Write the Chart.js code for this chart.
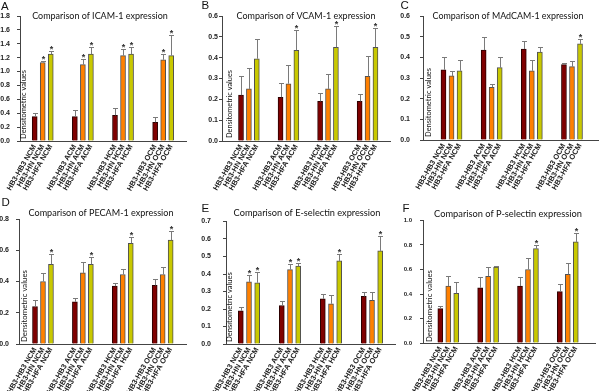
<!DOCTYPE html>
<html><head><meta charset="utf-8">
<script src="https://cdn.jsdelivr.net/npm/chart.js@4.4.1/dist/chart.umd.min.js"></script>
<style>
html,body{margin:0;padding:0;background:#fff;}
#wrap{position:relative;width:600px;height:391px;overflow:hidden;background:#fff;}
canvas{position:absolute;}
</style></head><body><div id="wrap"></div>
<script>
// ---------------- data ----------------
const groups = ['NCM','ACM','HCM','OCM'];
const cellLines = ['HB3-HB3','HB3-HN','HB3-HFA'];
const yLabel = 'Densitometric values';

// order within each group: HB3-HB3, HB3-HN, HB3-HFA
const icamMean   = [0.35,1.13,1.25, 0.35,1.10,1.25, 0.37,1.23,1.25, 0.27,1.17,1.23];
const icamUpper  = [0.41,1.15,1.29, 0.45,1.18,1.35, 0.47,1.33,1.35, 0.35,1.25,1.53];
const icamSig    = [0,1,1, 0,1,1, 0,1,1, 0,1,1];

const vcamMean   = [0.22,0.25,0.395, 0.21,0.275,0.435, 0.19,0.25,0.45, 0.19,0.31,0.45];
const vcamUpper  = [0.31,0.35,0.49, 0.28,0.365,0.535, 0.23,0.32,0.55, 0.225,0.41,0.54];
const vcamSig    = [0,0,0, 0,0,1, 0,0,1, 0,0,1];

const madcamMean  = [0.34,0.31,0.335, 0.435,0.255,0.35, 0.44,0.335,0.425, 0.365,0.355,0.465];
const madcamUpper = [0.40,0.335,0.385, 0.50,0.27,0.40, 0.48,0.385,0.45, 0.375,0.38,0.49];
const madcamSig   = [0,0,0, 0,0,0, 0,0,0, 0,0,1];

const pecamMean  = [0.24,0.40,0.51, 0.27,0.455,0.51, 0.37,0.445,0.645, 0.375,0.445,0.665];
const pecamUpper = [0.28,0.455,0.575, 0.295,0.525,0.555, 0.39,0.48,0.685, 0.415,0.49,0.725];
const pecamSig   = [0,0,1, 0,0,1, 0,0,1, 0,0,1];

const eselMean   = [0.19,0.355,0.35, 0.22,0.425,0.445, 0.258,0.23,0.475, 0.272,0.25,0.532];
const eselUpper  = [0.21,0.395,0.41, 0.245,0.455,0.465, 0.285,0.28,0.515, 0.30,0.30,0.615];
const eselSig    = [0,1,1, 0,1,1, 0,0,1, 0,0,1];

const pselMean   = [0.28,0.465,0.405, 0.45,0.545,0.62, 0.465,0.60,0.77, 0.42,0.56,0.825];
const pselUpper  = [0.30,0.545,0.495, 0.535,0.62,0.63, 0.54,0.69,0.80, 0.48,0.65,0.895];
const pselSig    = [0,0,0, 0,0,0, 0,0,1, 0,0,1];

const titles  = ['Comparison of ICAM-1 expression','Comparison of VCAM-1 expression','Comparison of MAdCAM-1 expression',
                 'Comparison of PECAM-1 expression','Comparison of E-selectin expression','Comparison of P-selectin expression'];
const letters = ['A','B','C','D','E','F'];
const yMax    = [1.8, 0.6, 0.6, 0.8, 0.7, 1.0];
const yStep   = [0.2, 0.1, 0.1, 0.2, 0.1, 0.2];

const panels = [
  {mean:icamMean,   upper:icamUpper,   sig:icamSig},
  {mean:vcamMean,   upper:vcamUpper,   sig:vcamSig},
  {mean:madcamMean, upper:madcamUpper, sig:madcamSig},
  {mean:pecamMean,  upper:pecamUpper,  sig:pecamSig},
  {mean:eselMean,   upper:eselUpper,   sig:eselSig},
  {mean:pselMean,   upper:pselUpper,   sig:pselSig}
];

// ---------------- layout / style ----------------
const barColors = ['#7f0000','#ff8000','#c8c800'];
const barBorder = ['#2a0000','#505050','#505050'];
const axisColor = '#444';
const layouts = [
  {x:0,  y:0,   w:200,h:195, axisX:20, top:16,   bottom:141, firstBar:34.7, pitch:8.03, xEnd:186, tickPad:7,  tickSize:7,
   letter:[1,9.5],   title:[100,16,136],  ylab:[24,139,69]},
  {x:200,y:0,   w:200,h:195, axisX:22, top:16,   bottom:141, firstBar:41,   pitch:7.91, xEnd:190, tickPad:1,  tickSize:7,
   letter:[1.5,9.3], title:[106,16,139],  ylab:[30,138,68]},
  {x:400,y:0,   w:200,h:195, axisX:23, top:16,   bottom:140, firstBar:43.5, pitch:8.03, xEnd:198, tickPad:10, tickSize:7,
   letter:[0.5,9],   title:[108,16,151],  ylab:[29,137,69]},
  {x:0,  y:195, w:200,h:196, axisX:19, top:24,   bottom:149, firstBar:35,   pitch:7.98, xEnd:186, tickPad:7,  tickSize:7,
   letter:[1.5,10.7],title:[101,18.3,145],ylab:[24.5,147,72]},
  {x:200,y:195, w:200,h:196, axisX:26, top:26.5, bottom:149, firstBar:40.8, pitch:8.2,  xEnd:195, tickPad:12, tickSize:7,
   letter:[1.5,17.3],title:[107,18.3,147],ylab:[29.5,147,70]},
  {x:400,y:195, w:200,h:196, axisX:23, top:25.5, bottom:148, firstBar:40.3, pitch:7.97, xEnd:195, tickPad:8,  tickSize:6,
   letter:[2.5,17.3],title:[108,19,148], ylab:[29,147,72]}
];

// bar positions (slot index) and labels, derived from group / cell line indices
const positions = [], tickLabels = [];
groups.forEach((g, gi) => cellLines.forEach((c, ci) => { positions.push(gi * 5 + ci); tickLabels.push(c + ' ' + g); }));

function fitSize(ctx, text, family, weight, target) {
  ctx.font = weight + ' 20px ' + family;
  return 20 * target / ctx.measureText(text).width;
}

const overlay = {
  id: 'overlay',
  afterDatasetsDraw(chart) {
    const ctx = chart.ctx, o = chart.options.plugins.overlay;
    const xs = chart.scales.x, ys = chart.scales.y;
    const p = o.panel;
    ctx.save();
    ctx.strokeStyle = '#7a7a7a';
    ctx.lineWidth = 1;
    p.mean.forEach((m, i) => {
      const px = Math.round(xs.getPixelForValue(positions[i])) + 0.5;
      const yb = ys.getPixelForValue(m);
      const yt = Math.round(ys.getPixelForValue(p.upper[i])) + 0.5;
      ctx.beginPath();
      ctx.moveTo(px, yb); ctx.lineTo(px, yt);
      ctx.moveTo(px - 2.5, yt); ctx.lineTo(px + 2.5, yt);
      ctx.stroke();
      if (p.sig[i]) {
        ctx.fillStyle = '#333';
        ctx.font = 'bold 9px "Liberation Sans", Arial, sans-serif';
        ctx.textAlign = 'center';
        ctx.textBaseline = 'alphabetic';
        ctx.fillText('*', px, yt + 0.5);
      }
    });
    ctx.restore();
  },
  afterDraw(chart) {
    const ctx = chart.ctx, o = chart.options.plugins.overlay;
    const L = o.layout;
    ctx.save();
    ctx.fillStyle = '#111';
    ctx.font = '11.5px "Liberation Sans", Arial, sans-serif';
    ctx.textAlign = 'left'; ctx.textBaseline = 'alphabetic';
    ctx.fillText(o.letter, L.letter[0], L.letter[1]);
    const fam = 'Lato, "Liberation Sans", sans-serif';
    const ts = fitSize(ctx, o.title, fam, 'normal', L.title[2]);
    ctx.font = 'normal ' + ts + 'px ' + fam;
    ctx.textAlign = 'center'; ctx.textBaseline = 'middle';
    ctx.fillText(o.title, L.title[0], L.title[1]);
    const ls = fitSize(ctx, yLabel, fam, 'normal', L.ylab[2]);
    ctx.font = 'normal ' + ls + 'px ' + fam;
    ctx.translate(L.ylab[0], L.ylab[1]);
    ctx.rotate(-Math.PI / 2);
    ctx.textAlign = 'left'; ctx.textBaseline = 'middle';
    ctx.fillText(yLabel, 0, 0);
    ctx.restore();
  }
};

const wrap = document.getElementById('wrap');
panels.forEach((panel, k) => {
  const L = layouts[k];
  const cv = document.createElement('canvas');
  cv.width = L.w; cv.height = L.h;
  cv.style.left = L.x + 'px'; cv.style.top = L.y + 'px';
  cv.style.width = L.w + 'px'; cv.style.height = L.h + 'px';
  wrap.appendChild(cv);
  const xmin = -(L.firstBar - L.axisX) / L.pitch;
  const xmax = (L.xEnd - L.firstBar) / L.pitch;
  new Chart(cv, {
    type: 'bar',
    data: {
      datasets: [{
        data: panel.mean.map((v, i) => ({x: positions[i], y: v})),
        backgroundColor: panel.mean.map((v, i) => barColors[i % 3]),
        borderColor: panel.mean.map((v, i) => barBorder[i % 3]),
        borderWidth: 1,
        barThickness: 5
      }]
    },
    options: {
      responsive: false, animation: false, events: [],
      devicePixelRatio: 1,
      layout: {padding: {left: 0, top: L.top, right: L.w - L.xEnd, bottom: 0}},
      plugins: {
        legend: {display: false}, tooltip: {enabled: false}, title: {display: false},
        overlay: {panel: panel, layout: L, title: titles[k], letter: letters[k]}
      },
      scales: {
        x: {
          type: 'linear', min: xmin, max: xmax, bounds: 'data', offset: false,
          grid: {display: false, drawTicks: false},
          border: {display: true, color: axisColor, width: 1},
          ticks: {
            autoSkip: false, minRotation: 60, maxRotation: 60, padding: 2,
            color: '#222', font: {family: '"Liberation Sans", Arial, sans-serif', size: 7.5, weight: 'bold'},
            callback: (v) => { const i = positions.indexOf(v); return i >= 0 ? tickLabels[i] : ''; }
          },
          afterBuildTicks: (s) => { s.ticks = positions.map(v => ({value: v})); },
          afterFit: (s) => { s.height = L.h - L.bottom; s.paddingLeft = 0; s.paddingRight = 0; }
        },
        y: {
          type: 'linear', min: 0, max: yMax[k],
          grid: {display: true, drawOnChartArea: false, drawTicks: true, tickLength: 3, tickColor: axisColor},
          border: {display: true, color: axisColor, width: 1},
          ticks: {
            stepSize: yStep[k], padding: L.tickPad, color: '#222',
            font: {family: '"Liberation Sans", Arial, sans-serif', size: L.tickSize, weight: 'bold'},
            callback: (v) => Number(v).toFixed(1)
          },
          afterFit: (s) => { s.width = L.axisX; s.paddingTop = 0; s.paddingBottom = 0; }
        }
      }
    },
    plugins: [overlay]
  });
});
</script>
</body></html>
